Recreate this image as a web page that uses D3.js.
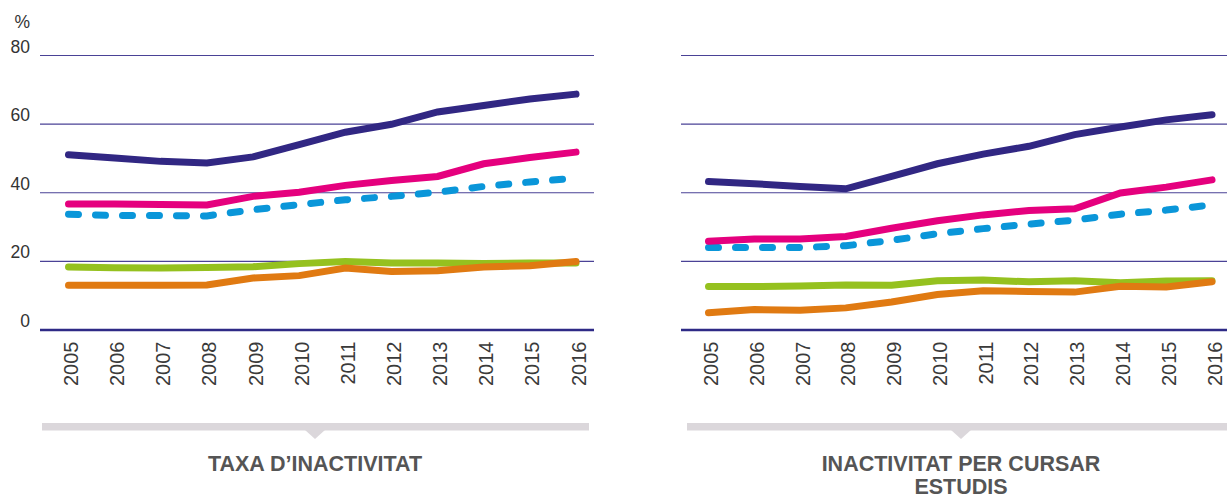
<!DOCTYPE html>
<html>
<head>
<meta charset="utf-8">
<script src="https://cdn.jsdelivr.net/npm/d3@7"></script>
<style>
    body { margin: 0; background: #fff; }
    svg { display: block; font-family: "Liberation Sans", Arial, sans-serif; }
</style>
</head>
<body>
<div id="chart"></div>
<script>
// years and y ticks
const years = ["2005", "2006", "2007", "2008", "2009", "2010", "2011", "2012", "2013", "2014", "2015", "2016"];
const yTicks = [0, 20, 40, 60, 80];

// left panel: taxa d'inactivitat (%)
const taxaNavy = [50.9, 50.0, 49.0, 48.5, 50.3, 53.9, 57.5, 59.8, 63.4, 65.3, 67.2, 68.6];
const taxaMagenta = [36.6, 36.6, 36.4, 36.3, 38.8, 40.0, 42.0, 43.4, 44.6, 48.3, 50.1, 51.7];
const taxaBlue = [33.6, 33.2, 33.2, 33.1, 34.9, 36.4, 37.8, 38.8, 40.0, 41.7, 43.0, 44.1];
const taxaGreen = [18.2, 18.0, 17.9, 18.1, 18.3, 19.2, 19.8, 19.4, 19.4, 19.2, 19.4, 19.4];
const taxaOrange = [12.9, 12.9, 12.9, 13.0, 15.0, 15.7, 17.9, 16.9, 17.1, 18.2, 18.6, 19.8];

// right panel: inactivitat per cursar estudis (%)
const estNavy = [43.1, 42.5, 41.7, 41.0, 44.6, 48.3, 51.1, 53.4, 56.8, 59.0, 61.1, 62.6];
const estMagenta = [25.7, 26.4, 26.4, 27.1, 29.5, 31.7, 33.4, 34.7, 35.2, 39.8, 41.5, 43.6];
const estBlue = [23.9, 23.9, 23.9, 24.4, 26.0, 27.9, 29.4, 30.7, 31.9, 33.6, 34.8, 36.3];
const estGreen = [12.5, 12.5, 12.7, 13.0, 12.9, 14.2, 14.4, 13.9, 14.2, 13.6, 14.1, 14.2];
const estOrange = [4.9, 5.8, 5.6, 6.3, 8.0, 10.2, 11.3, 11.1, 10.9, 12.6, 12.4, 13.9];

const w = 1227;
const h = 500;

const colors = {
    navy: "#312783",
    magenta: "#e5007e",
    blue: "#0a96d9",
    green: "#95c11f",
    orange: "#e07a12"
};

const panels = [
    {
        gx: [40, 594], px: [68.5, 576], showY: true,
        series: [
            { v: taxaBlue, c: colors.blue, dash: true },
            { v: taxaGreen, c: colors.green },
            { v: taxaOrange, c: colors.orange },
            { v: taxaMagenta, c: colors.magenta },
            { v: taxaNavy, c: colors.navy }
        ],
        bar: [42, 589], tri: 315, title: ["TAXA D\u2019INACTIVITAT"]
    },
    {
        gx: [681, 1227], px: [708.5, 1212], showY: false,
        series: [
            { v: estBlue, c: colors.blue, dash: true },
            { v: estGreen, c: colors.green },
            { v: estOrange, c: colors.orange },
            { v: estMagenta, c: colors.magenta },
            { v: estNavy, c: colors.navy }
        ],
        bar: [687, 1227], tri: 961, title: ["INACTIVITAT PER CURSAR", "ESTUDIS"]
    }
];

const yScale = d3.scaleLinear().domain([0, 80]).range([329.5, 55]);

const svg = d3.select("#chart")
    .append("svg")
    .attr("width", w)
    .attr("height", h);

panels.forEach((p) => {
    const g = svg.append("g");

    // horizontal gridlines
    const yAxis = d3.axisLeft(yScale)
        .tickValues(yTicks)
        .tickSize(-(p.gx[1] - p.gx[0]))
        .tickFormat("");
    const grid = g.append("g")
        .attr("transform", `translate(${p.gx[0]},0)`)
        .call(yAxis);
    grid.select(".domain").remove();
    grid.selectAll(".tick line")
        .attr("stroke", (d) => (d === 0 ? "#2e2a86" : "#4a4296"))
        .attr("stroke-width", (d) => (d === 0 ? 2.6 : 1.1));

    if (p.showY) {
        g.selectAll(".ylab")
            .data(yTicks)
            .enter()
            .append("text")
            .attr("class", "ylab")
            .attr("x", 30)
            .attr("y", (d) => yScale(d) - 2.5)
            .attr("text-anchor", "end")
            .attr("font-size", 17.5)
            .attr("fill", "#333")
            .text((d) => d);
        g.append("text")
            .attr("x", 30)
            .attr("y", 28)
            .attr("text-anchor", "end")
            .attr("font-size", 17.5)
            .attr("fill", "#333")
            .text("%");
    }

    // x axis with rotated year labels
    const xScale = d3.scalePoint().domain(years).range(p.px);
    const xAxis = d3.axisBottom(xScale).tickSize(0);
    const xg = g.append("g")
        .attr("transform", `translate(0,${yScale(0)})`)
        .call(xAxis);
    xg.select(".domain").remove();
    xg.selectAll("text")
        .attr("transform", "rotate(-90)")
        .attr("text-anchor", "end")
        .attr("x", -12)
        .attr("y", 0)
        .attr("dy", "0.45em")
        .attr("font-size", 20)
        .attr("font-family", "Liberation Sans, Arial, sans-serif")
        .attr("fill", "#3a3a3a");

    // lines
    const line = d3.line()
        .x((d, i) => xScale(years[i]))
        .y((d) => yScale(d));

    p.series.forEach((s) => {
        g.append("path")
            .datum(s.v)
            .attr("d", line)
            .attr("fill", "none")
            .attr("stroke", s.c)
            .attr("stroke-width", 7)
            .attr("stroke-linecap", "round")
            .attr("stroke-dasharray", s.dash ? "10,17" : null);
    });

    // grey bracket bar with pointer
    g.append("rect")
        .attr("x", p.bar[0])
        .attr("y", 423)
        .attr("width", p.bar[1] - p.bar[0])
        .attr("height", 7.5)
        .attr("fill", "#dbd7db");
    g.append("path")
        .attr("d", `M${p.tri - 10},430 L${p.tri + 10},430 L${p.tri},439 Z`)
        .attr("fill", "#dbd7db");

    // panel title, one text per line
    p.title.forEach((t, i) => {
        g.append("text")
            .attr("x", p.tri)
            .attr("y", 471 + i * 23)
            .attr("text-anchor", "middle")
            .attr("font-size", 21.5)
            .attr("font-weight", "bold")
            .attr("fill", "#555")
            .text(t);
    });
});
</script>
</body>
</html>
